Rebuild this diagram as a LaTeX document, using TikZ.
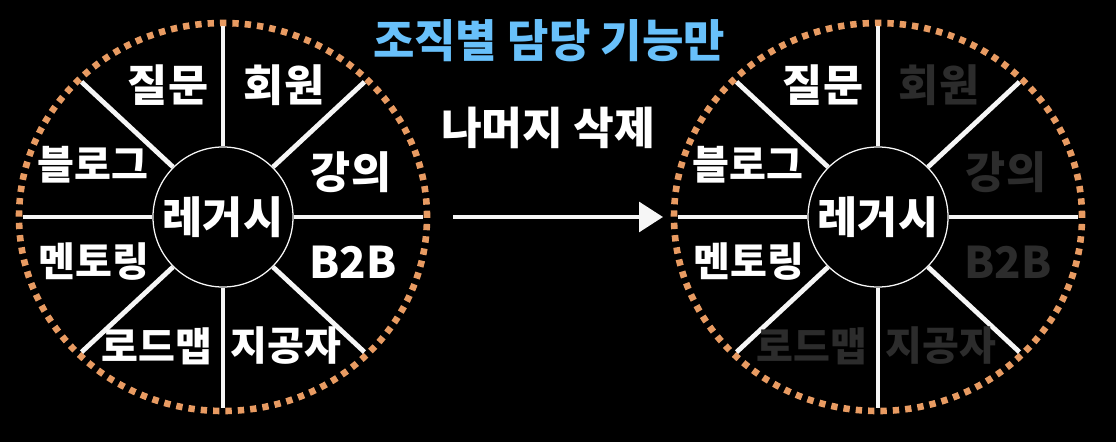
\documentclass[tikz,border=0pt]{standalone}
\usepackage{fontspec}
\setmainfont{Noto Sans CJK KR}
\usetikzlibrary{calc,arrows.meta}
\usepackage{xcolor}
\definecolor{dotpeach}{RGB}{232,155,98}
\definecolor{titleblue}{RGB}{104,192,250}
\definecolor{chalk}{RGB}{246,246,246}
\definecolor{fadedgray}{RGB}{44,44,44}

\begin{document}
\begin{tikzpicture}[x=0.025cm,y=0.025cm,
  rim/.style={dotpeach,line width=4.7pt,dash pattern=on 4.5pt off 4.3pt},
  spoke/.style={chalk,line width=3.4pt},
  hub/.style={circle,draw=chalk,fill=black,line width=0.9pt,minimum size=3.5cm,
    inner sep=0pt,text=white,font=\fontsize{31}{34}\selectfont\bfseries},
  lbl/.style={text=white,inner sep=0pt,font=\fontsize{31}{34}\selectfont\bfseries},
  lblwide/.style={lbl,font=\fontsize{28.5}{32}\selectfont\bfseries},
  faded/.style={text=fadedgray}]

  % ── BACKGROUND ─────────────────────────────────────────────────────────────
  \fill[black] (0,0) rectangle (1116,442);
  \useasboundingbox (0,0) rectangle (1116,442);

  % ── WHEEL: dotted rim + eight chalk spokes + hub ──────────────────────────
  \newcommand{\legacywheel}[3]{%
    \draw[rim] (#2,#3) ellipse (204 and 194);
    \node[hub] (#1) at (#2,#3) {레거시};
    \foreach \a in {0,45,...,315}
      \draw[spoke] (#1.\a) -- ($(#1.center)+(\a:200 and 191)$);
  }
  \legacywheel{hubL}{223}{225}
  \legacywheel{hubR}{878}{225}

  % ── LEFT WHEEL LABELS (all kept) ──────────────────────────────────────────
  \node[lbl]     (qnaL)    at (168,357) {질문};
  \node[lbl]     (userL)   at (284,357) {회원};
  \node[lblwide] (blogL)   at (93,277)  {블로그};
  \node[lbl]     (lectL)   at (351,270) {강의};
  \node[lblwide] (mentorL) at (94,180)  {멘토링};
  \node[lbl]     (btobL)   at (353,180) {B2B};
  \node[lblwide] (roadL)   at (157,96)  {로드맵};
  \node[lblwide] (jgjL)    at (286,96)  {지공자};

  % ── RIGHT WHEEL LABELS (only four kept, rest faded) ───────────────────────
  \node[lbl]            (qnaR)    at (823,357) {질문};
  \node[lbl,faded]      (userR)   at (939,357) {회원};
  \node[lblwide]        (blogR)   at (748,277) {블로그};
  \node[lbl,faded]      (lectR)   at (1006,270) {강의};
  \node[lblwide]        (mentorR) at (749,180) {멘토링};
  \node[lbl,faded]      (btobR)   at (1008,180) {B2B};
  \node[lblwide,faded]  (roadR)   at (812,96)  {로드맵};
  \node[lblwide,faded]  (jgjR)    at (941,96)  {지공자};

  % ── CAPTIONS + ARROW ──────────────────────────────────────────────────────
  \node[text=titleblue,font=\fontsize{32}{35}\selectfont\bfseries] (title)
    at (549,401) {조직별 담당 기능만};
  \node[text=white,font=\fontsize{31.5}{34}\selectfont\bfseries] (drop)
    at (548,314) {나머지 삭제};
  \coordinate (arrS) at (453,225);
  \coordinate (arrE) at (663,225);
  \draw[chalk,line width=3pt,-{Triangle[length=17pt,width=21pt]}] (arrS) -- (arrE);

\end{tikzpicture}
\end{document}
